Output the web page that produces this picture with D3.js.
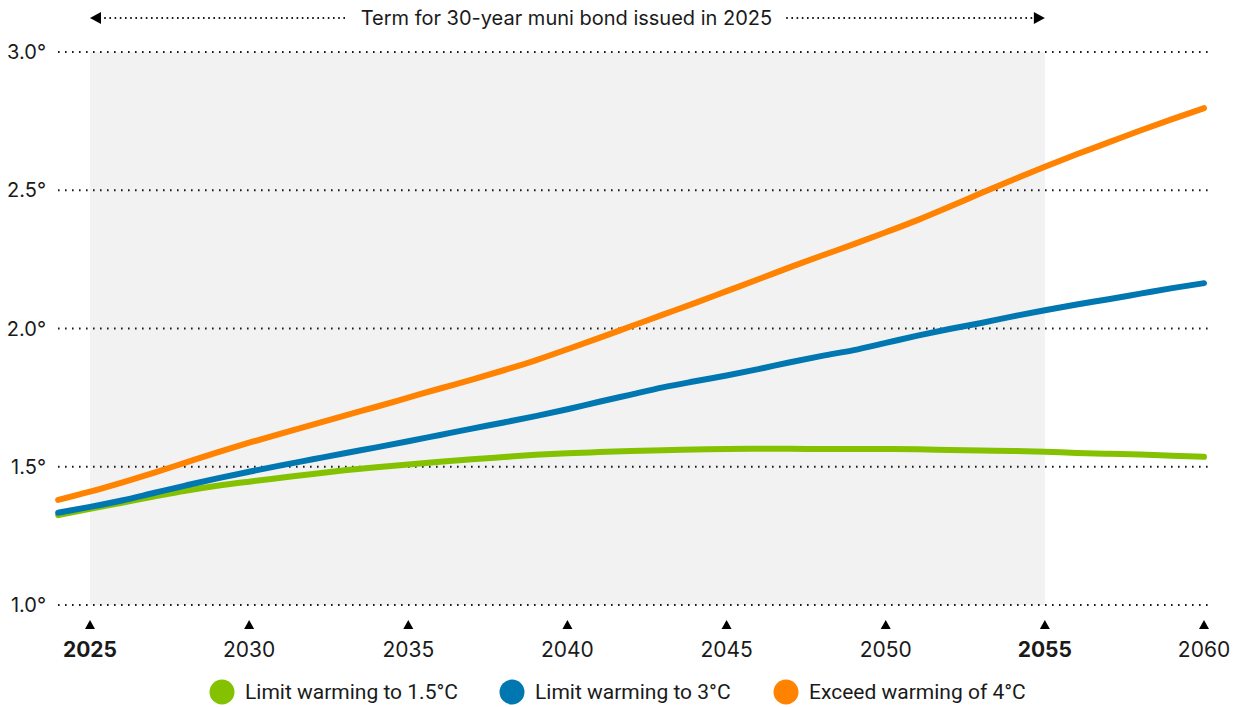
<!DOCTYPE html>
<html>
<head>
<meta charset="utf-8">
<script src="https://cdn.jsdelivr.net/npm/d3@7"></script>
<style>
  html, body { margin: 0; padding: 0; background: #fff; }
  svg { display: block; }
  text { font-family: Inter, "Open Sans", sans-serif; fill: #1a1a1a; }
</style>
</head>
<body>
<svg id="chart" width="1235" height="707"></svg>
<script>
const years = d3.range(2024, 2061);
const limit15 = [1.325,1.348,1.370,1.392,1.413,1.431,1.446,1.460,1.474,1.487,1.498,1.508,1.518,1.527,1.535,1.543,1.549,1.553,1.557,1.560,1.562,1.564,1.565,1.565,1.564,1.564,1.564,1.563,1.561,1.559,1.557,1.554,1.550,1.547,1.544,1.540,1.536];
const limit3 = [1.334,1.355,1.378,1.405,1.432,1.458,1.482,1.505,1.527,1.549,1.570,1.592,1.615,1.638,1.660,1.683,1.708,1.735,1.761,1.787,1.809,1.830,1.853,1.878,1.901,1.922,1.948,1.974,1.998,2.020,2.044,2.066,2.087,2.106,2.126,2.146,2.164];
const exceed4 = [1.380,1.410,1.443,1.478,1.515,1.552,1.587,1.620,1.652,1.685,1.717,1.750,1.783,1.815,1.849,1.885,1.925,1.966,2.008,2.050,2.092,2.135,2.178,2.222,2.264,2.305,2.348,2.392,2.440,2.490,2.538,2.585,2.630,2.673,2.716,2.757,2.797];
const seriesNames = ["Limit warming to 1.5°C", "Limit warming to 3°C", "Exceed warming of 4°C"];
const seriesColors = ["#84c100", "#0077b0", "#ff8200"];
const xTicks = [2025, 2030, 2035, 2040, 2045, 2050, 2055, 2060];
const boldTicks = [2025, 2055];
const yTicks = [1.0, 1.5, 2.0, 2.5, 3.0];
const termStart = 2025, termEnd = 2055;
const annotation = "Term for 30-year muni bond issued in 2025";

const svg = d3.select("#chart");
const x = d3.scaleLinear().domain([2025, 2060]).range([90, 1204]);
const y = d3.scaleLinear().domain([1.0, 3.0]).range([605, 52]);

// shaded term region
svg.append("rect")
  .attr("x", x(termStart)).attr("y", y(3.0))
  .attr("width", x(termEnd) - x(termStart)).attr("height", y(1.0) - y(3.0))
  .attr("fill", "#f2f2f2");

// gridlines
const gridL = 58, gridR = 1208;
svg.append("g").selectAll("line").data(yTicks).join("line")
  .attr("x1", gridL).attr("x2", gridR)
  .attr("y1", d => y(d)).attr("y2", d => y(d))
  .attr("stroke", "#1a1a1a").attr("stroke-width", 2)
  .attr("stroke-dasharray", "1.6,5.4");

// y labels
svg.append("g").selectAll("text").data(yTicks).join("text")
  .attr("x", 46).attr("y", d => y(d)).attr("dy", "0.35em")
  .attr("text-anchor", "end").attr("font-size", 20)
  .text(d => d.toFixed(1) + "°");

// x ticks (triangles + labels)
const xg = svg.append("g");
xg.selectAll("path").data(xTicks).join("path")
  .attr("d", d => `M${x(d)-5},629 L${x(d)+5},629 L${x(d)},620 Z`)
  .attr("fill", "#000");
xg.selectAll("text").data(xTicks).join("text")
  .attr("x", d => x(d)).attr("y", 657)
  .attr("text-anchor", "middle").attr("font-size", 21)
  .attr("font-weight", d => boldTicks.includes(d) ? 700 : 400)
  .text(d => d);

// lines
const allSeries = [limit15, limit3, exceed4];
const line = d3.line().x((d, i) => x(years[i])).y(d => y(d)).curve(d3.curveMonotoneX);
svg.append("g").selectAll("path").data(allSeries).join("path")
  .attr("d", d => line(d))
  .attr("fill", "none")
  .attr("stroke", (d, i) => seriesColors[i])
  .attr("stroke-width", 6)
  .attr("stroke-linecap", "round")
  .attr("stroke-linejoin", "round");

// top annotation
const ann = svg.append("g");
const annX = (x(termStart) + x(termEnd)) / 2 - 1;
const annT = ann.append("text")
  .attr("x", annX).attr("y", 25)
  .attr("text-anchor", "middle").attr("font-size", 20)
  .text(annotation);
const bb = annT.node().getBBox();
const ay = 18;
ann.append("line")
  .attr("x1", x(termStart) + 9).attr("x2", bb.x - 14)
  .attr("y1", ay).attr("y2", ay)
  .attr("stroke", "#1a1a1a").attr("stroke-width", 2).attr("stroke-dasharray", "1.6,3.6");
ann.append("line")
  .attr("x1", bb.x + bb.width + 14).attr("x2", x(termEnd) - 9)
  .attr("y1", ay).attr("y2", ay)
  .attr("stroke", "#1a1a1a").attr("stroke-width", 2).attr("stroke-dasharray", "1.6,3.6");
ann.append("path")
  .attr("d", `M${x(termStart)},${ay} L${x(termStart)+11},${ay-6} L${x(termStart)+11},${ay+6} Z`)
  .attr("fill", "#000");
ann.append("path")
  .attr("d", `M${x(termEnd)},${ay} L${x(termEnd)-11},${ay-6} L${x(termEnd)-11},${ay+6} Z`)
  .attr("fill", "#000");

// legend
const legendX = [222, 512, 786];
const lg = svg.append("g");
seriesNames.forEach((name, i) => {
  lg.append("circle").attr("cx", legendX[i]).attr("cy", 692).attr("r", 12.5).attr("fill", seriesColors[i]);
  lg.append("text").attr("x", legendX[i] + 23).attr("y", 692).attr("dy", "0.35em")
    .attr("font-size", 21).style("font-family", "Roboto, sans-serif").text(name);
});
</script>
</body>
</html>
